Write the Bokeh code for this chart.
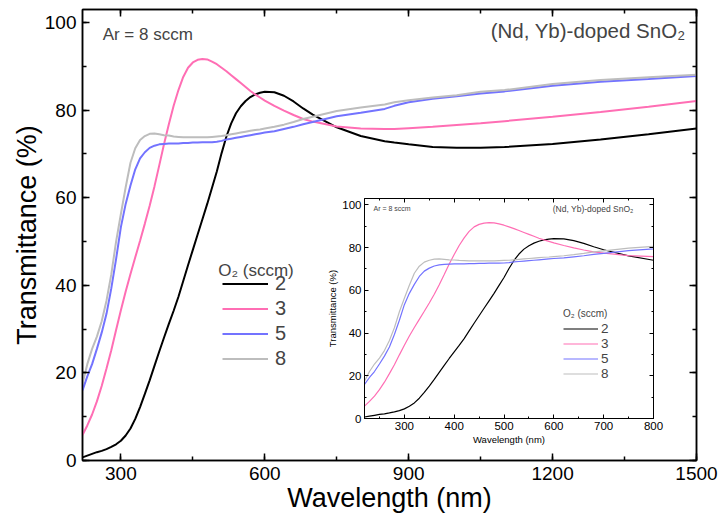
from bokeh.plotting import figure
from bokeh.models import (Range1d, LinearAxis, SingleIntervalTicker, Legend, LegendItem,
                          Label, CustomLabelingPolicy)
from bokeh.layouts import column
from bokeh.embed import file_html
from bokeh.resources import INLINE

# ---------------- data ----------------
wavelength = [220, 230, 240, 250, 260, 270, 280, 290, 300, 310, 320, 330, 340, 350,
              360, 370, 380, 390, 400, 410, 420, 430, 440, 450, 460, 470, 480, 490,
              500, 510, 520, 530, 540, 550, 560, 570, 580, 590, 600, 620, 640, 660,
              680, 700, 750, 800, 850, 870, 900, 950, 1000, 1050, 1100, 1200, 1300,
              1400, 1500]

t_o2_2 = [0.7, 1.1, 1.5, 1.9, 2.2, 2.6, 3.1, 3.7, 4.5, 5.7, 7.3, 9.5, 12.2, 15.2,
          18.3, 21.6, 24.9, 28.1, 31.2, 34.2, 37.4, 41.0, 44.6, 48.1, 51.6, 55.1, 58.6, 62.3,
          66.0, 70.2, 74.0, 77.0, 79.3, 80.9, 82.1, 83.0, 83.6, 84.0, 84.2, 84.1, 83.3, 82.0,
          80.4, 79.0, 76.1, 74.1, 72.9, 72.6, 72.2, 71.6, 71.4, 71.4, 71.6, 72.3, 73.3,
          74.5, 75.8]

t_o2_3 = [5.8, 8.0, 10.5, 13.5, 17.0, 21.0, 25.2, 29.8, 34.3, 38.6, 42.6, 46.4, 50.2, 54.1,
          58.2, 62.6, 67.4, 72.3, 76.8, 81.0, 84.6, 87.6, 89.7, 90.9, 91.5, 91.7, 91.6, 91.1,
          90.5, 89.7, 88.9, 88.0, 87.1, 86.2, 85.3, 84.4, 83.6, 82.9, 82.2, 81.0, 79.9, 78.9,
          78.0, 77.4, 76.3, 75.8, 75.7, 75.7, 75.9, 76.2, 76.6, 77.0, 77.5, 78.5, 79.6,
          80.8, 82.1]

t_o2_5 = [16.0, 19.2, 22.0, 25.5, 29.2, 33.5, 39.3, 46.0, 53.3, 58.6, 62.8, 66.5, 69.0, 70.4,
          71.4, 71.9, 72.2, 72.3, 72.4, 72.4, 72.4, 72.5, 72.5, 72.6, 72.6, 72.7, 72.7, 72.7,
          72.8, 73.0, 73.3, 73.5, 73.7, 73.9, 74.1, 74.3, 74.5, 74.7, 74.9, 75.2, 75.7, 76.2,
          76.8, 77.3, 78.6, 79.4, 80.3, 81.0, 81.8, 82.6, 83.2, 83.8, 84.3, 85.6, 86.5,
          87.1, 87.8]

t_o2_8 = [17.5, 22.0, 25.5, 28.3, 31.8, 36.5, 42.5, 50.0, 56.3, 62.4, 68.0, 71.3, 73.2, 74.1,
          74.6, 74.7, 74.5, 74.3, 74.2, 74.0, 73.9, 73.8, 73.8, 73.8, 73.8, 73.8, 73.8, 73.9,
          74.0, 74.1, 74.3, 74.5, 74.7, 74.9, 75.1, 75.3, 75.5, 75.6, 75.8, 76.2, 76.7, 77.3,
          78.0, 78.5, 79.8, 80.6, 81.3, 81.8, 82.3, 82.9, 83.4, 84.2, 84.6, 86.0, 86.9,
          87.5, 88.1]

series_labels = ["2", "3", "5", "8"]
series_values = [t_o2_2, t_o2_3, t_o2_5, t_o2_8]
series_colors = ["#000000", "#ff6eb4", "#7373ff", "#bdbdbd"]

legend_title = "O\u2082 (sccm)"
note_text = "Ar = 8 sccm"
sample_text = "(Nd, Yb)-doped SnO\u2082"
x_label = "Wavelength (nm)"
y_label = "Transmittance (%)"

FONT = "Liberation Sans"
NO_LABELS = CustomLabelingPolicy(code="return new Set()")


def style_frame(p, xstep, ystep, tick_in, minor_in, lw, tick_fs, label_fs,
                tick_standoff, label_standoff):
    p.grid.visible = False
    p.outline_line_color = "black"
    p.outline_line_width = lw
    p.background_fill_alpha = 0
    p.border_fill_alpha = 0
    p.add_layout(LinearAxis(), "above")
    p.add_layout(LinearAxis(), "right")
    for ax in p.xaxis:
        ax.ticker = SingleIntervalTicker(interval=xstep, num_minor_ticks=2)
    for ax in p.yaxis:
        ax.ticker = SingleIntervalTicker(interval=ystep, num_minor_ticks=2)
    for ax in list(p.xaxis) + list(p.yaxis):
        ax.major_tick_in = tick_in
        ax.major_tick_out = 0
        ax.minor_tick_in = minor_in
        ax.minor_tick_out = 0
        ax.axis_line_width = lw
        ax.major_tick_line_width = lw
        ax.minor_tick_line_width = lw
        ax.major_label_text_font = FONT
        ax.major_label_text_font_size = tick_fs
        ax.major_label_text_color = "black"
        ax.major_label_standoff = tick_standoff
        ax.axis_label_text_font = FONT
        ax.axis_label_text_font_size = label_fs
        ax.axis_label_text_font_style = "normal"
        ax.axis_label_text_color = "black"
        ax.axis_label_standoff = label_standoff
    for ax in p.above + p.right:
        ax.major_label_text_font_size = "0px"
        ax.major_label_standoff = 0
        ax.major_label_policy = NO_LABELS
        ax.axis_label = None


# ---------------- main plot ----------------
p = figure(width=719, height=520, x_range=Range1d(220, 1500), y_range=Range1d(0, 103),
           output_backend="svg", toolbar_location=None,
           min_border_left=82, min_border_right=23, min_border_top=9, min_border_bottom=60,
           x_axis_label=x_label, y_axis_label=y_label)
style_frame(p, 300, 20, 7, 4, 1.5, "19px", "27px", 6, 0)

items = []
for lab, vals, col in zip(series_labels, series_values, series_colors):
    r = p.line(wavelength, vals, line_color=col, line_width=2)
    items.append(LegendItem(label=lab, renderers=[r]))

leg = Legend(items=items, location=(140, 89),
             label_text_font=FONT, label_text_font_size="20px",
             glyph_width=46, glyph_height=25, label_height=25, label_standoff=7,
             spacing=0, padding=0, margin=0, border_line_color=None,
             background_fill_alpha=0)
p.add_layout(leg)
# legend title placed just above the entries, as in the reference
p.add_layout(Label(x=503, y=43.3, text=legend_title, text_font=FONT, text_font_size="17px",
                   text_baseline="middle", text_align="left"))

p.add_layout(Label(x=262, y=97.4, text=note_text, text_font=FONT, text_font_size="17px",
                   text_baseline="middle", text_align="left"))
p.add_layout(Label(x=1477, y=98.1, text=sample_text, text_font=FONT, text_font_size="20.5px",
                   text_baseline="middle", text_align="right"))

# ---------------- inset plot (borders are aligned with the main plot's in the column) ----
ins = figure(width=394, height=258, x_range=Range1d(220, 800), y_range=Range1d(0, 103),
             output_backend="svg", toolbar_location=None,
             min_border_left=82, min_border_right=23, min_border_top=9, min_border_bottom=28,
             x_axis_label=x_label, y_axis_label=y_label)
style_frame(ins, 100, 20, 4, 2, 1, "11.5px", "9.5px", 3, 1)

items2 = []
for lab, vals, col in zip(series_labels, series_values, series_colors):
    r = ins.line(wavelength, vals, line_color=col, line_width=1.2)
    items2.append(LegendItem(label=lab, renderers=[r]))

leg2 = Legend(items=items2, location=(199, 37), title=legend_title,
              title_text_font=FONT, title_text_font_size="10px", title_text_font_style="normal",
              title_standoff=2,
              label_text_font=FONT, label_text_font_size="13.5px",
              glyph_width=35, glyph_height=15, label_height=15, label_standoff=3,
              spacing=0, padding=0, margin=0, border_line_color=None,
              background_fill_alpha=0)
ins.add_layout(leg2)

ins.add_layout(Label(x=238, y=98.3, text=note_text, text_font=FONT, text_font_size="7px",
                     text_baseline="middle", text_align="left"))
ins.add_layout(Label(x=760, y=98.3, text=sample_text, text_font=FONT, text_font_size="8.5px",
                     text_baseline="middle", text_align="right"))

ins.margin = (-331, 0, 0, 282)

layout = column(p, ins, spacing=0)

open("out.html", "w").write(file_html(layout, INLINE))
